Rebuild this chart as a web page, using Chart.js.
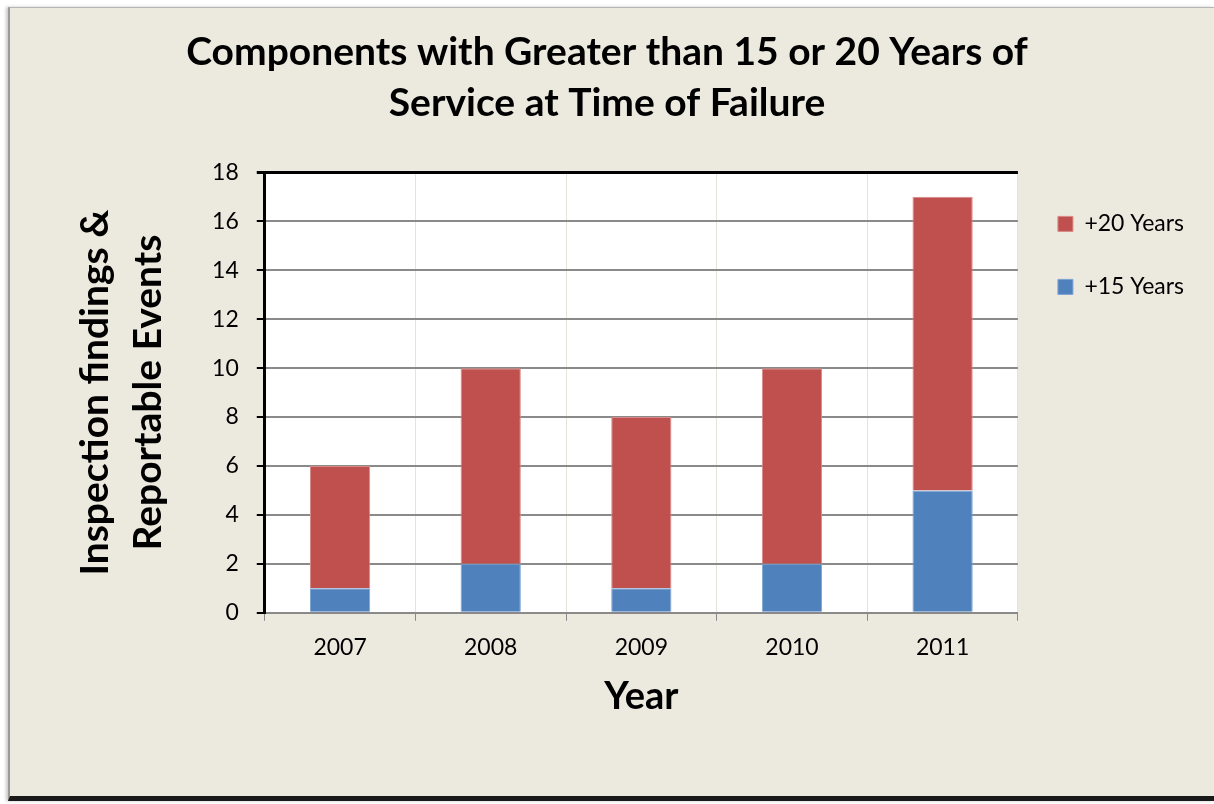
<!DOCTYPE html>
<html>
<head>
<meta charset="utf-8">
<script src="https://cdn.jsdelivr.net/npm/chart.js@4.4.1/dist/chart.umd.min.js"></script>
<style>
  html, body { margin: 0; padding: 0; background: #ffffff; }
  #panel {
    position: absolute; left: 8px; top: 7px; width: 1204px; height: 788px;
    background: #ECE9DF;
    border-left: 2px solid #9a9a9a; border-top: 1px solid #b5b5b5;
    border-bottom: 5px solid #1a1a1a;
    box-shadow: -2px 0 3px #c8c8c8;
  }
  #wrap { position: absolute; left: 0; top: 0; width: 1214px; height: 804px; }
</style>
</head>
<body>
<div id="panel"></div>
<div id="wrap"><canvas id="chartFallas" width="1214" height="804"></canvas></div>
<script>
// datos
const years = ['2007', '2008', '2009', '2010', '2011'];
const plus15 = [1, 2, 1, 2, 5];
const plus20 = [5, 8, 7, 8, 12];
const yMax = 18;

const fuente = "Lato, 'Open Sans', sans-serif";

// fondo blanco del area de trazado
const fondoBlanco = {
    id: 'fondoBlanco',
    beforeDraw(chart) {
        const a = chart.chartArea;
        const ctx = chart.ctx;
        ctx.save();
        ctx.fillStyle = '#ffffff';
        ctx.fillRect(a.left, a.top, a.right - a.left, a.bottom - a.top);
        ctx.restore();
    }
};

const ctx = document.getElementById('chartFallas');
new Chart(ctx, {
    type: 'bar',
    data: {
        labels: years,
        datasets: [
            { label: '+15 Years', data: plus15, backgroundColor: '#4F81BD', borderColor: '#7da3d4', borderWidth: 1, barPercentage: 0.4, categoryPercentage: 1 },
            { label: '+20 Years', data: plus20, backgroundColor: '#C0504D', borderColor: '#d88a88', borderWidth: 1, barPercentage: 0.4, categoryPercentage: 1 }
        ]
    },
    options: {
        responsive: false,
        animation: false,
        devicePixelRatio: 1,
        layout: { padding: { left: 20, right: 20, top: 27, bottom: 80 } },
        plugins: {
            title: {
                display: true,
                text: ['Components with Greater than 15 or 20 Years of', 'Service at Time of Failure'],
                color: '#000',
                font: { family: fuente, size: 39, weight: 'bold', lineHeight: 1.3 },
                padding: { top: 0, bottom: 44 }
            },
            legend: {
                position: 'right',
                align: 'start',
                fullSize: false,
                reverse: true,
                labels: {
                    color: '#000',
                    font: { family: fuente, size: 23 },
                    boxWidth: 15,
                    boxHeight: 15,
                    padding: 40
                }
            },
            tooltip: { enabled: false }
        },
        scales: {
            x: {
                stacked: true,
                offset: true,
                border: { color: '#8a8a8a', width: 2 },
                grid: {
                    offset: true,
                    color: (c) => c.index === years.length ? '#000' : '#e6e3da',
                    lineWidth: (c) => c.index === years.length ? 2 : 1,
                    tickColor: '#8a8a8a',
                    tickLength: 8
                },
                ticks: { color: '#000', font: { family: fuente, size: 23 }, padding: 13 },
                title: {
                    display: true,
                    text: 'Year',
                    color: '#000',
                    font: { family: fuente, size: 38, weight: 'bold' },
                    padding: { top: 0 }
                }
            },
            y: {
                stacked: true,
                min: 0,
                max: yMax,
                border: { color: '#000', width: 3 },
                grid: {
                    color: (c) => c.tick && c.tick.value === yMax ? '#000' : '#8a8a8a',
                    lineWidth: (c) => c.tick && c.tick.value === yMax ? 3 : 2,
                    tickColor: '#000',
                    tickLength: 8
                },
                ticks: { stepSize: 2, color: '#000', font: { family: fuente, size: 23 }, padding: 18 },
                title: {
                    display: true,
                    text: ['Inspection findings &', 'Reportable Events'],
                    color: '#000',
                    font: { family: fuente, size: 39, weight: 'bold', lineHeight: 1.36 },
                    padding: { top: 49, bottom: 19 }
                }
            }
        }
    },
    plugins: [fondoBlanco]
});
</script>
</body>
</html>
